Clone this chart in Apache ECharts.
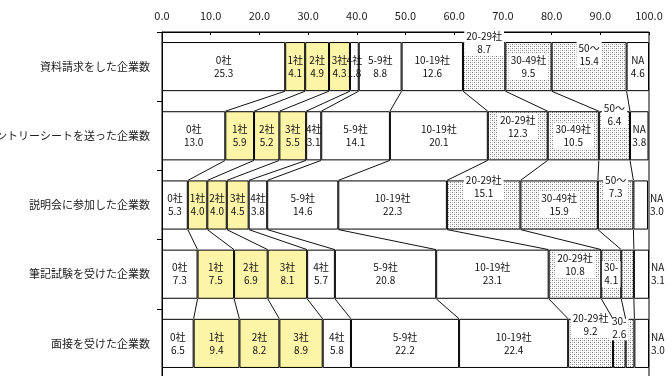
<!DOCTYPE html>
<html><head><meta charset="utf-8">
<script src="https://cdn.jsdelivr.net/npm/echarts@6/dist/echarts.min.js"></script>
<style>html,body{margin:0;padding:0;background:#fff}#c{width:672px;height:376px}</style>
</head><body><div id="c"></div>
<script>
const categories = ['資料請求をした企業数','エントリーシートを送った企業数','説明会に参加した企業数','筆記試験を受けた企業数','面接を受けた企業数'];
const segments = ['0社','1社','2社','3社','4社','5-9社','10-19社','20-29社','30-49社','50～','NA'];
const rowShiryo   = [25.3, 4.1, 4.9, 4.3, 1.8,  8.8, 12.6,  8.7,  9.5, 15.4, 4.6];
const rowEntry    = [13.0, 5.9, 5.2, 5.5, 3.1, 14.1, 20.1, 12.3, 10.5,  6.4, 3.8];
const rowSetsumei = [ 5.3, 4.0, 4.0, 4.5, 3.8, 14.6, 22.3, 15.1, 15.9,  7.3, 3.0];
const rowHikki    = [ 7.3, 7.5, 6.9, 8.1, 5.7, 20.8, 23.1, 10.8,  4.1,  2.6, 3.1];
const rowMensetsu = [ 6.5, 9.4, 8.2, 8.9, 5.8, 22.2, 22.4,  9.2,  2.6,  1.8, 3.0];
const xTicks = [0, 10, 20, 30, 40, 50, 60, 70, 80, 90, 100];
// segment name shown in a label, where it differs from the series name ('' = no label)
const labelNameOverrides = {'3,8':'30-','3,9':'','4,8':'30-','4,9':''};

const rows = [rowShiryo, rowEntry, rowSetsumei, rowHikki, rowMensetsu];

// styling
const yellowSegs = [1,2,3];
const dottedSegs = [7,8,9];
const labelPlacement = {
  '0,7':{top:-12}, '0,9':{top:0},
  '1,7':{top:2}, '1,9':{top:-9.5},
  '2,7':{top:-6.5}, '2,9':{top:-6.5}, '2,10':{right:true},
  '3,7':{top:2.5}, '3,10':{right:true},
  '4,7':{top:-7.5}, '4,8':{top:-4.5}, '4,10':{right:true}
};

function makePattern(){
  const c = document.createElement('canvas'); c.width = 4; c.height = 4;
  const g = c.getContext('2d');
  g.fillStyle = '#ffffff'; g.fillRect(0,0,4,4);
  g.fillStyle = '#7a7a7a'; g.fillRect(0,0,1,1); g.fillRect(2,2,1,1);
  g.fillStyle = '#c4c4c4'; g.fillRect(2,0,1,1); g.fillRect(0,2,1,1);
  return c;
}
const pattern = {image: makePattern(), repeat: 'repeat'};
const FONT = '"Noto Sans CJK JP", "Noto Sans", sans-serif';
const BAR_RATIO = 0.71;

const series = segments.map((name, s) => {
  const dotted = dottedSegs.includes(s);
  return {
    type: 'bar', name: name, stack: 'all', barWidth: (BAR_RATIO*100)+'%',
    itemStyle: {
      color: yellowSegs.includes(s) ? '#fcf4a6' : (dotted ? pattern : '#ffffff'),
      borderColor: '#000', borderWidth: 1
    },
    label: {
      show: true, position: 'inside', color: '#111', fontSize: 10, lineHeight: 13,
      fontFamily: FONT,
      backgroundColor: dotted ? '#fff' : 'transparent', padding: dotted ? [0,2] : 0,
      formatter: p => {
        const key = p.dataIndex + ',' + s;
        const nm = key in labelNameOverrides ? labelNameOverrides[key] : name;
        if (nm === '') return '';
        return nm + '\n' + p.value.toFixed(1);
      }
    },
    data: rows.map((r, i) => {
      const key = i + ',' + s;
      const pl = labelPlacement[key];
      const item = {value: r[s]};
      if (pl) {
        if (pl.right) item.label = {position: 'right', distance: 2, align: 'left'};
        else item.label = {position: 'insideTop', distance: 0, offset: [0, pl.top]};
      }
      return item;
    })
  };
});

// series lines connecting cumulative boundaries between adjacent rows
const connData = [];
for (let i = 0; i < rows.length - 1; i++) {
  let a = 0, b = 0;
  for (let s = 0; s < segments.length - 1; s++) {
    a += rows[i][s]; b += rows[i+1][s];
    connData.push([a, b, i]);
  }
}
series.push({
  type: 'custom', silent: true, z: 5,
  encode: {x: 0, y: 2},
  renderItem: (params, api) => {
    const r = api.value(2);
    const p0 = api.coord([api.value(0), r]);
    const p1 = api.coord([api.value(1), r + 1]);
    const h = api.size([0, 1])[1] * BAR_RATIO / 2;
    return {type: 'line', shape: {x1: p0[0], y1: p0[1] + h, x2: p1[0], y2: p1[1] - h},
            style: {stroke: '#111', lineWidth: 1}};
  },
  data: connData
});

const chart = echarts.init(document.getElementById('c'), null, {renderer: 'canvas'});
chart.setOption({
  animation: false,
  grid: {left: 162, right: 23, top: 32, height: 346, containLabel: false, outerBoundsMode: 'none',
         show: true, borderColor: '#000', borderWidth: 1, backgroundColor: 'transparent'},
  xAxis: {
    type: 'value', position: 'top', min: xTicks[0], max: xTicks[xTicks.length-1], interval: xTicks[1]-xTicks[0],
    axisLine: {show: true, lineStyle: {color: '#000'}},
    axisTick: {show: true, inside: true, length: 3, lineStyle: {color: '#000'}},
    splitLine: {show: false},
    axisLabel: {color: '#222', fontSize: 11, fontFamily: FONT, margin: 11, formatter: v => v.toFixed(1)}
  },
  yAxis: {
    type: 'category', inverse: true, data: categories,
    axisLine: {show: true, lineStyle: {color: '#000'}},
    axisTick: {show: true, length: 5, lineStyle: {color: '#000'}},
    axisLabel: {color: '#222', fontSize: 11, fontFamily: FONT, margin: 12}
  },
  series: series
});
</script></body></html>
